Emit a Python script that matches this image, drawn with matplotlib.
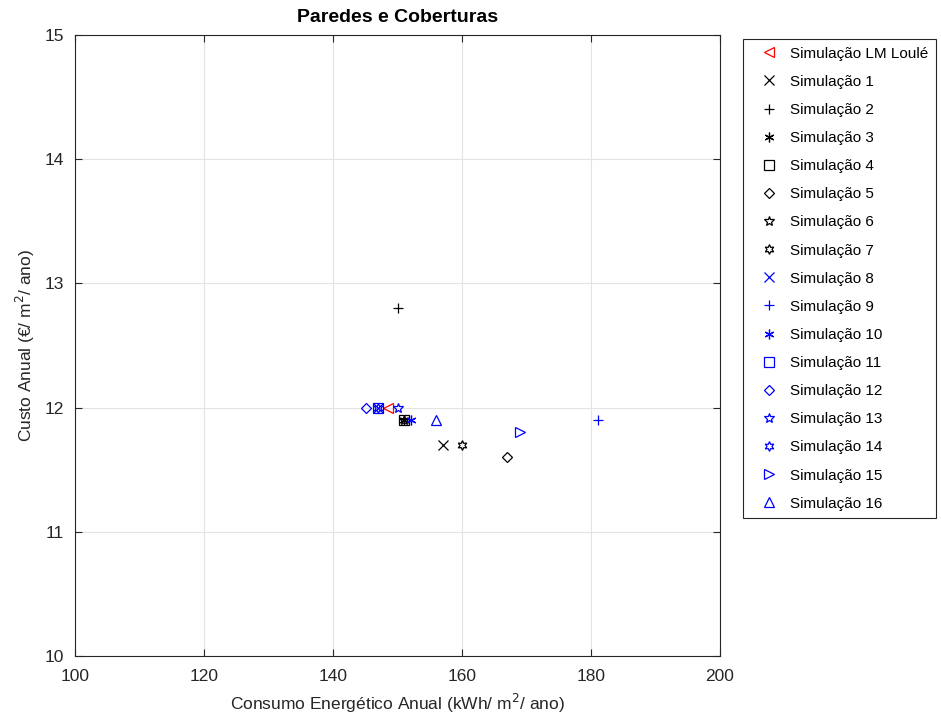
import matplotlib
matplotlib.use('Agg')
import matplotlib.pyplot as plt

plt.rcParams['font.family'] = ['Liberation Sans', 'DejaVu Sans']

# data
labels = ['Simulação LM Loulé'] + ['Simulação %d' % i for i in range(1, 17)]
consumo = [148.5, 157, 150, 151, 151, 167, 151, 160,
           147, 181, 152, 147, 145, 150, 147, 169, 156]
custo = [12.0, 11.7, 12.8, 11.9, 11.9, 11.6, 11.9, 11.7,
         12.0, 11.9, 11.9, 12.0, 12.0, 12.0, 12.0, 11.8, 11.9]

# styles
markers = ['<', 'x', '+', (6, 2, 0), 's', 'D', '*', (6, 1, 0),
           'x', '+', (6, 2, 0), 's', 'D', '*', (6, 1, 0), '>', '^']
sizes = [7, 7, 7, 7, 7, 5, 7, 7, 7, 7, 7, 7, 5, 7, 7, 7, 7]
cols = ['r'] + ['k'] * 7 + ['b'] * 9

fig = plt.figure(figsize=(9.41, 7.26), dpi=100)
ax = fig.add_axes([0.0802, 0.0964, 0.685, 0.8554])

for lab, x, y, m, s, c in zip(labels, consumo, custo, markers, sizes, cols):
    ax.plot([x], [y], linestyle='none', marker=m, markersize=s,
            markerfacecolor='none', markeredgecolor=c, markeredgewidth=0.9,
            label=lab)

ax.set_xlim(100, 200)
ax.set_ylim(10, 15)
ax.set_xticks([100, 120, 140, 160, 180, 200])
ax.set_yticks([10, 11, 12, 13, 14, 15])
ax.grid(True, color='#e3e3e3', linewidth=0.8)
ax.set_axisbelow(True)
ax.tick_params(direction='in', length=5, labelsize=12.5, colors='#262626',
               top=True, right=True, labeltop=False, labelright=False)
ax.tick_params(axis='x', pad=9)
ax.tick_params(axis='y', pad=8)
for sp in ax.spines.values():
    sp.set_color('#262626')
    sp.set_linewidth(0.8)

ax.set_xlabel('Consumo Energético Anual (kWh/ m$^2$/ ano)', fontsize=12.5,
              color='#262626', labelpad=6)
ax.set_ylabel('Custo Anual (€/ m$^2$/ ano)', fontsize=12.5, color='#262626',
              labelpad=6)
ax.set_title('Paredes e Coberturas', fontsize=14, fontweight='bold', pad=9)

leg = fig.legend(loc='upper left', bbox_to_anchor=(743 / 941, 1 - 39 / 726),
                 fontsize=11, labelspacing=0.925, handlelength=2.4,
                 handletextpad=0.2, borderpad=0.5, fancybox=False,
                 framealpha=1, edgecolor='#262626', borderaxespad=0)
leg.get_frame().set_linewidth(0.8)

fig.savefig('out.png', dpi=100)
